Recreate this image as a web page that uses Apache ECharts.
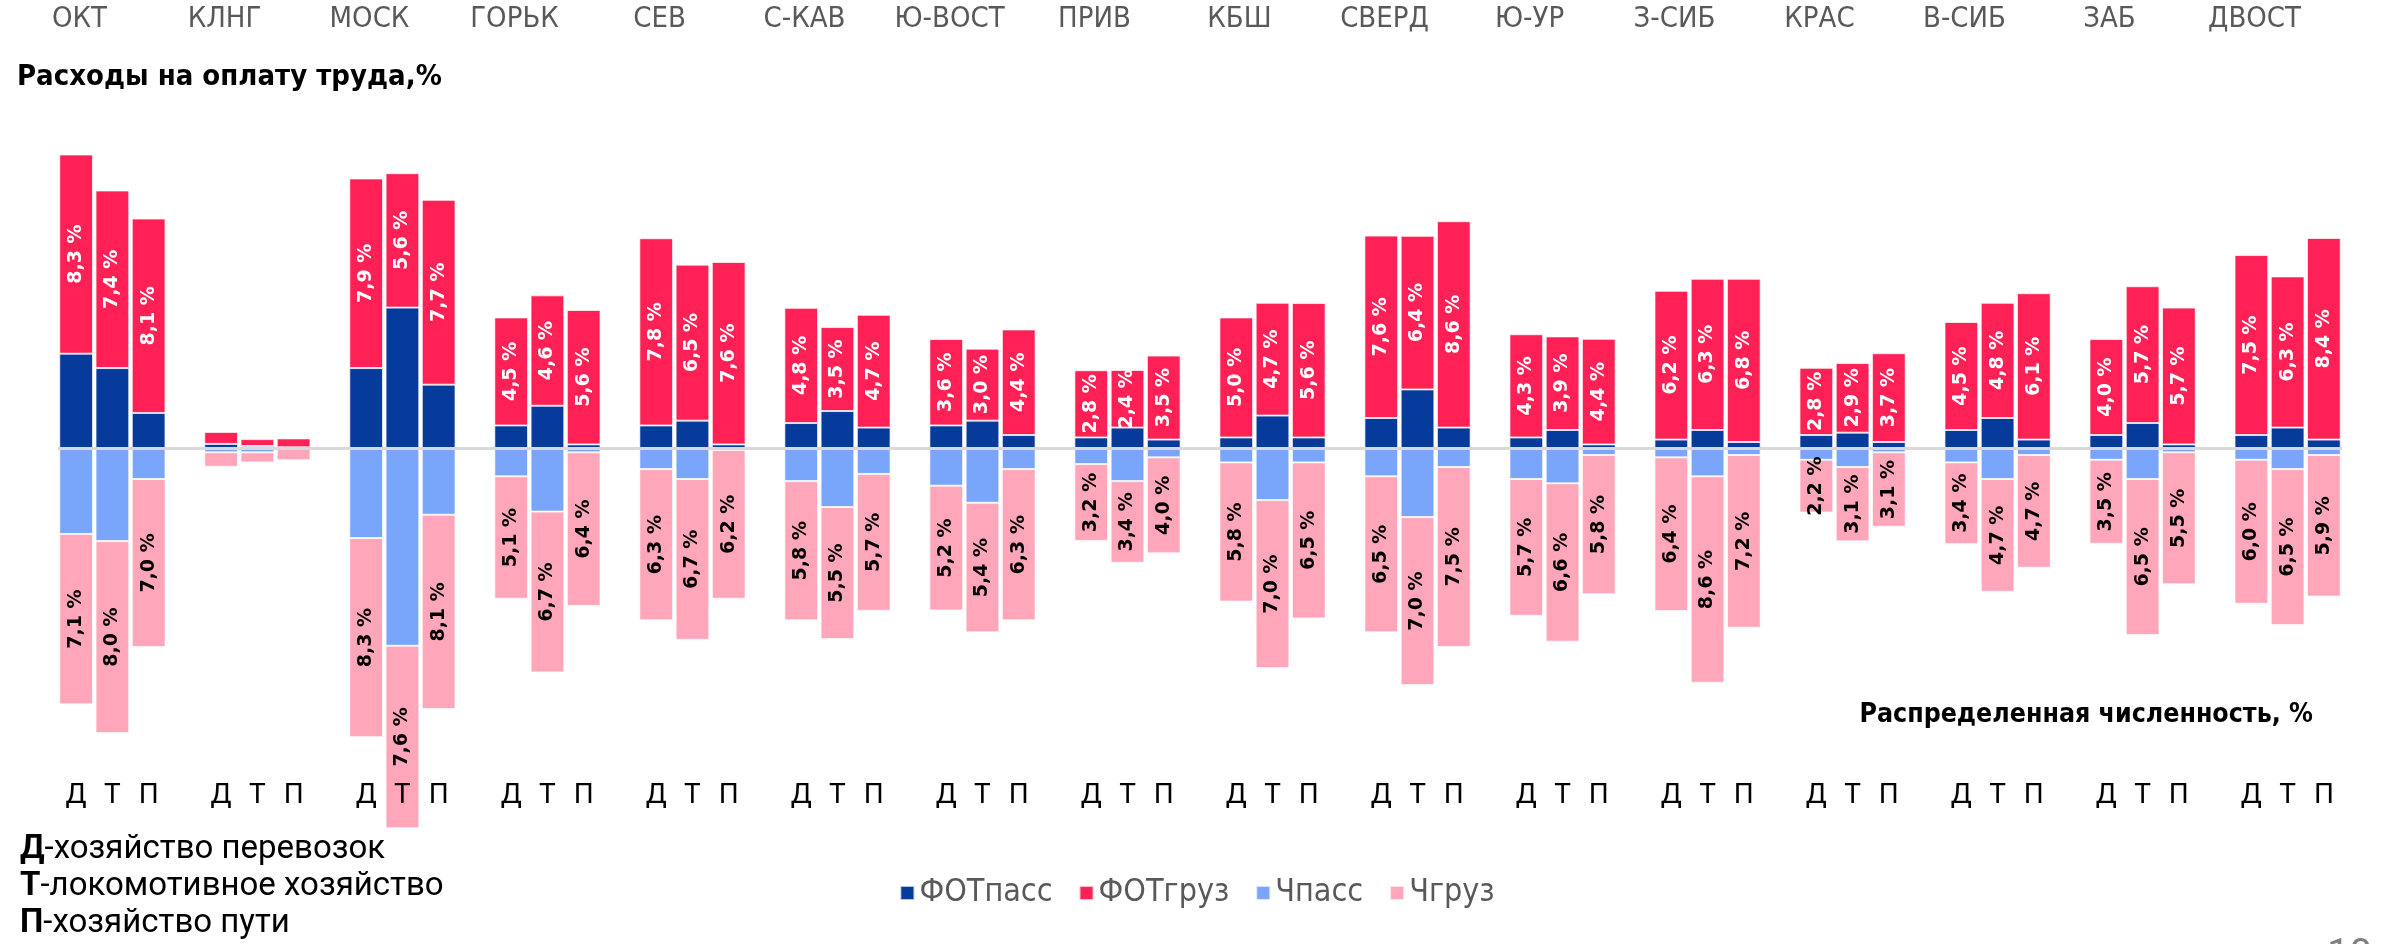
<!DOCTYPE html>
<html>
<head>
<meta charset="utf-8">
<script src="https://cdn.jsdelivr.net/npm/echarts@6/dist/echarts.min.js"></script>
<style>
html,body{margin:0;padding:0;background:#fff;}
#chart{width:2394px;height:944px;}
</style>
</head>
<body>
<div id="chart"></div>
<script>
// Regions (top labels)
const regions = ['ОКТ','КЛНГ','МОСК','ГОРЬК','СЕВ','С-КАВ','Ю-ВОСТ','ПРИВ','КБШ','СВЕРД','Ю-УР','З-СИБ','КРАС','В-СИБ','ЗАБ','ДВОСТ'];
// Units within each region
const units = ['Д','Т','П'];
const seriesNames = ['ФОТпасс','ФОТгруз','Чпасс','Чгруз'];

// Values in %, region-major order: Д, Т, П for each region
const fotPass = [3.93,3.33,1.46, 0.17,0.08,0.03, 3.33,5.85,2.64, 0.94,1.76,0.15, 0.94,1.14,0.15, 1.04,1.54,0.85,
                 0.94,1.14,0.54, 0.44,0.85,0.35, 0.44,1.35,0.44, 1.25,2.44,0.85, 0.44,0.75,0.15, 0.35,0.75,0.25,
                 0.54,0.64,0.25, 0.75,1.25,0.35, 0.54,1.04,0.15, 0.54,0.85,0.35];
const fotGruz = [8.3,7.4,8.1, 0.5,0.29,0.37, 7.9,5.6,7.7, 4.5,4.6,5.6, 7.8,6.5,7.6, 4.8,3.5,4.7,
                 3.6,3.0,4.4, 2.8,2.4,3.5, 5.0,4.7,5.6, 7.6,6.4,8.6, 4.3,3.9,4.4, 6.2,6.3,6.8,
                 2.8,2.9,3.7, 4.5,4.8,6.1, 4.0,5.7,5.7, 7.5,6.3,8.4];
const chPass = [3.58,3.88,1.29, 0.18,0.18,0.02, 3.75,8.24,2.78, 1.18,2.65,0.18, 0.88,1.29,0.08, 1.38,2.46,1.08,
                1.57,2.28,0.88, 0.67,1.38,0.39, 0.6,2.17,0.6, 1.18,2.88,0.79, 1.29,1.47,0.29, 0.39,1.18,0.29,
                0.49,0.79,0.18, 0.6,1.29,0.29, 0.49,1.29,0.18, 0.49,0.88,0.29];
const chGruz = [7.1,8.0,7.0, 0.6,0.42,0.49, 8.3,7.6,8.1, 5.1,6.7,6.4, 6.3,6.7,6.2, 5.8,5.5,5.7,
                5.2,5.4,6.3, 3.2,3.4,4.0, 5.8,7.0,6.5, 6.5,7.0,7.5, 5.7,6.6,5.8, 6.4,8.6,7.2,
                2.2,3.1,3.1, 3.4,4.7,4.7, 3.5,6.5,5.5, 6.0,6.5,5.9];

const colors = ['#063a9b','#ff2155','#79a6fa','#ffa6ba'];

// Build slot axis: Д Т П + spacer between regions
const slots = [];
const slotIndex = []; // maps slot -> data index or -1
regions.forEach((r, ri) => {
  units.forEach((u, ui) => { slots.push(u); slotIndex.push(ri * 3 + ui); });
  if (ri < regions.length - 1) { slots.push(''); slotIndex.push(-1); }
});
function toSlots(arr, sign) {
  return slotIndex.map(i => i < 0 ? null : sign * arr[i]);
}
function fmt(v) {
  const a = Math.abs(v);
  if (a < 1) return '';
  return a.toFixed(1).replace('.', ',') + ' %';
}

const labelFont = 'DejaVu Sans';
const narrow = '"Liberation Sans Narrow", "DejaVu Sans Condensed", "Roboto Condensed", Roboto, sans-serif';

const barCommon = {
  type: 'bar',
  stack: 'total',
  barCategoryGap: '7%',
  clip: false,
  itemStyle: { borderColor: 'rgba(255,255,255,0.7)', borderWidth: 1 }
};

const chart = echarts.init(document.getElementById('chart'));
chart.setOption({
  animation: false,
  color: colors,
  title: [
    { text: 'Расходы на оплату труда,%', left: 12, top: 58,
      textStyle: { fontFamily: narrow, fontWeight: 'bold', fontSize: 29, color: '#000' } },
    { text: 'Распределенная численность, %', right: 76, top: 697,
      textStyle: { fontFamily: narrow, fontWeight: 'bold', fontSize: 26.5, color: '#000' } },
    { text: '{b|Д}{n|-хозяйство перевозок}\n{b|Т}{n|-локомотивное хозяйство}\n{b|П}{n|-хозяйство пути}',
      left: 15, top: 826,
      textStyle: { lineHeight: 37, fontWeight: 'normal', rich: {
        b: { fontFamily: 'Roboto', fontWeight: 'bold', fontSize: 33, color: '#000', lineHeight: 37 },
        n: { fontFamily: 'Roboto', fontWeight: 'normal', fontSize: 33, color: '#000', lineHeight: 37 } } } },
    { text: '10', left: 2322, top: 932,
      textStyle: { fontFamily: 'Roboto', fontSize: 40, color: '#7f7f7f', fontWeight: 'normal' } }
  ],
  legend: {
    data: seriesNames,
    bottom: 30, left: 'center',
    itemWidth: 14, itemHeight: 14, itemGap: 26,
    icon: 'rect',
    textStyle: { fontFamily: narrow, fontSize: 32, color: '#595959' }
  },
  grid: [
    { left: 58, right: 52, top: 136, bottom: 184 },
    { left: 7, width: 2320, top: 40, height: 1 }
  ],
  xAxis: [
    { type: 'category', gridIndex: 0, data: slots, z: 10,
      axisLine: { show: false, onZero: false }, axisTick: { show: false },
      axisLabel: { interval: 0, margin: 22, fontFamily: 'Roboto', fontSize: 28, color: '#000' } },
    { type: 'category', gridIndex: 1, data: regions, position: 'top',
      axisLine: { show: false }, axisTick: { show: false },
      axisLabel: { interval: 0, margin: 6, fontFamily: narrow, fontSize: 29, color: '#595959' } }
  ],
  yAxis: [
    { type: 'value', gridIndex: 0, min: -13, max: 13, show: false },
    { type: 'value', gridIndex: 1, show: false }
  ],
  series: [
    Object.assign({}, barCommon, {
      name: seriesNames[0], data: toSlots(fotPass, 1),
      markLine: { silent: true, symbol: ['none','none'], label: { show: false },
        lineStyle: { color: '#d9d9d9', width: 3, type: 'solid' }, data: [{ yAxis: 0 }] }
    }),
    Object.assign({}, barCommon, {
      name: seriesNames[1], data: toSlots(fotGruz, 1),
      label: { show: true, position: 'inside', rotate: 90, color: '#fff', fontFamily: labelFont,
        fontWeight: 'bold', fontSize: 19, formatter: p => fmt(p.value) }
    }),
    Object.assign({}, barCommon, {
      name: seriesNames[2], data: toSlots(chPass, -1)
    }),
    Object.assign({}, barCommon, {
      name: seriesNames[3], data: toSlots(chGruz, -1),
      label: { show: true, position: 'inside', rotate: 90, color: '#000', fontFamily: labelFont,
        fontWeight: 'bold', fontSize: 19, formatter: p => fmt(p.value) }
    })
  ]
});
</script>
</body>
</html>
